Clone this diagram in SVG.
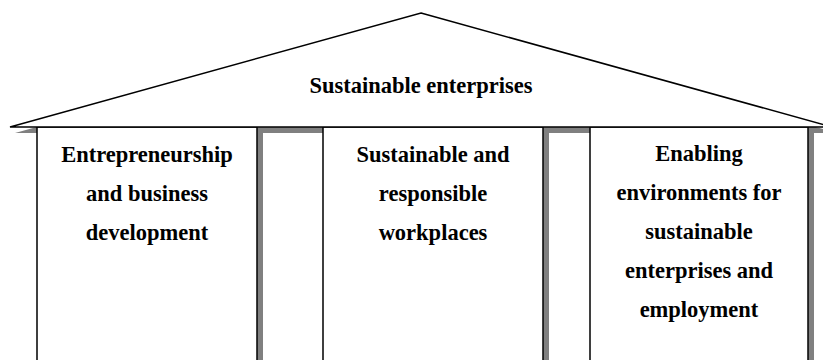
<svg xmlns="http://www.w3.org/2000/svg" width="823" height="360" viewBox="0 0 823 360">
<style>
.shadow{fill:#808080;stroke:none}
.shape{fill:#ffffff;stroke:#000000;stroke-width:1.5}
.lbl{font-family:"Liberation Serif","Times New Roman",serif;font-weight:bold;font-size:22.5px;fill:#000000;text-anchor:middle}
</style>
<rect width="823" height="360" fill="#ffffff"/>
<g id="shadows">
<polygon class="shadow" points="426,19 837,133 15,133"/>
<rect class="shadow" x="43" y="133" width="220" height="240"/>
<rect class="shadow" x="329" y="133" width="220" height="240"/>
<rect class="shadow" x="596" y="133" width="218" height="240"/>
</g>
<g id="pillar1">
<rect class="shape" x="37" y="127" width="220" height="240"/>
<text class="lbl" x="147" y="162">Entrepreneurship</text>
<text class="lbl" x="147" y="201">and business</text>
<text class="lbl" x="147" y="240">development</text>
</g>
<g id="pillar2">
<rect class="shape" x="323" y="127" width="220" height="240"/>
<text class="lbl" x="433" y="162">Sustainable and</text>
<text class="lbl" x="433" y="201">responsible</text>
<text class="lbl" x="433" y="240">workplaces</text>
</g>
<g id="pillar3">
<rect class="shape" x="590" y="127" width="218" height="240"/>
<text class="lbl" x="699" y="161">Enabling</text>
<text class="lbl" x="699" y="200">environments for</text>
<text class="lbl" x="699" y="239">sustainable</text>
<text class="lbl" x="699" y="278">enterprises and</text>
<text class="lbl" x="699" y="317">employment</text>
</g>
<g id="roof">
<polygon class="shape" points="421,13 832,127 10,127"/>
<text class="lbl" x="421" y="93">Sustainable enterprises</text>
</g>
</svg>
